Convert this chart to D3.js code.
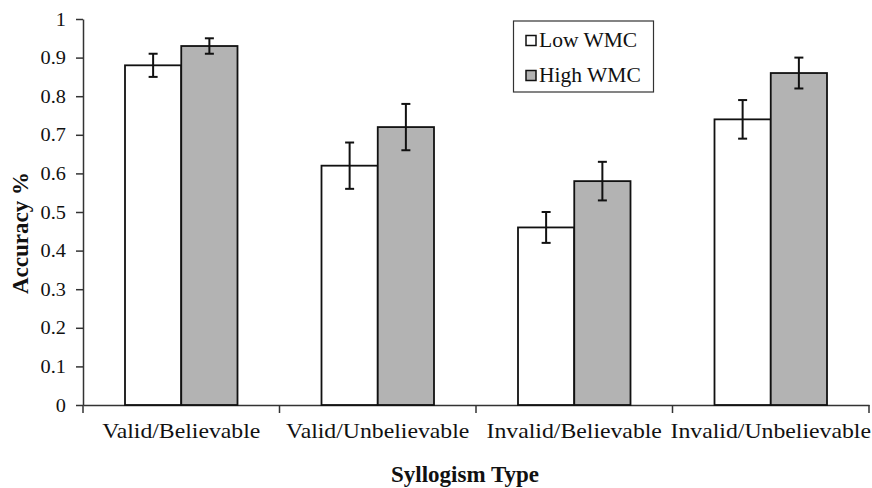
<!DOCTYPE html>
<html>
<head>
<meta charset="utf-8">
<script src="https://cdn.jsdelivr.net/npm/d3@7"></script>
<style>
  body { margin: 0; background: #fff; }
  svg { display: block; }
  text { font-family: "Liberation Serif", "Times New Roman", serif; fill: #111; }
</style>
</head>
<body>
<svg id="chart" width="872" height="488"></svg>
<script>
const categories = ["Valid/Believable", "Valid/Unbelievable", "Invalid/Believable", "Invalid/Unbelievable"];
const seriesNames = ["Low WMC", "High WMC"];
const lowValues = [0.88, 0.62, 0.46, 0.74];
const lowErrors = [0.03, 0.06, 0.04, 0.05];
const highValues = [0.93, 0.72, 0.58, 0.86];
const highErrors = [0.02, 0.06, 0.05, 0.04];
const yTicks = [0, 0.1, 0.2, 0.3, 0.4, 0.5, 0.6, 0.7, 0.8, 0.9, 1];
const yTickLabels = ["0", "0.1", "0.2", "0.3", "0.4", "0.5", "0.6", "0.7", "0.8", "0.9", "1"];
const colors = ["#ffffff", "#b3b3b3"];

const seriesValues = [lowValues, highValues];
const seriesErrors = [lowErrors, highErrors];

const svg = d3.select("#chart");
const plotLeft = 83, plotRight = 869, plotTop = 19, plotBottom = 405;

const y = d3.scaleLinear().domain([0, 1]).range([plotBottom, plotTop]);
const x0 = d3.scaleBand().domain(categories).range([plotLeft, plotRight]).padding(0);
const groupW = 112.5;
const x1 = d3.scaleBand().domain(seriesNames)
  .range([(x0.bandwidth() - groupW) / 2, (x0.bandwidth() + groupW) / 2]).padding(0);

// Y axis
const yAxis = svg.append("g").attr("transform", `translate(${plotLeft},0)`)
  .call(d3.axisLeft(y).tickValues(yTicks).tickFormat((d, i) => yTickLabels[i])
    .tickSize(7).tickSizeOuter(0).tickPadding(10));
yAxis.selectAll("text").style("font-size", "19px").style("font-family", "Liberation Serif")
  .attr("transform", "scale(1.07,1)").attr("x", -16);
yAxis.selectAll("line, path").attr("stroke", "#333").attr("stroke-width", 1.5);

// X axis
const xAxis = svg.append("g").attr("transform", `translate(0,${plotBottom})`)
  .call(d3.axisBottom(x0).tickSize(0).tickSizeOuter(0).tickPadding(17.5));
xAxis.select("path").attr("stroke", "#333").attr("stroke-width", 1.5);
xAxis.selectAll("text").style("font-size", "22px").style("font-family", "Liberation Serif")
  .attr("transform", "scale(1.08,1)");
const bounds = categories.map(c => x0(c)).concat([x0(categories[categories.length - 1]) + x0.bandwidth()]);
svg.append("g").selectAll("line").data(bounds).join("line")
  .attr("x1", d => d).attr("x2", d => d)
  .attr("y1", plotBottom).attr("y2", plotBottom + 8)
  .attr("stroke", "#333").attr("stroke-width", 1.5);

// Bars
const barData = [];
categories.forEach((c, ci) => {
  seriesNames.forEach((s, si) => {
    barData.push({ c, s, si, v: seriesValues[si][ci], e: seriesErrors[si][ci] });
  });
});
const g = svg.append("g");
g.selectAll("rect").data(barData).join("rect")
  .attr("x", d => x0(d.c) + x1(d.s))
  .attr("y", d => y(d.v))
  .attr("width", x1.bandwidth())
  .attr("height", d => y(0) - y(d.v))
  .attr("fill", d => colors[d.si])
  .attr("stroke", "#111").attr("stroke-width", 1.8);

// Error bars
const cap = 4.5;
const eg = svg.append("g").attr("stroke", "#111").attr("stroke-width", 2);
barData.forEach(d => {
  const cx = x0(d.c) + x1(d.s) + x1.bandwidth() / 2;
  eg.append("line").attr("x1", cx).attr("x2", cx).attr("y1", y(d.v + d.e)).attr("y2", y(d.v - d.e));
  eg.append("line").attr("x1", cx - cap).attr("x2", cx + cap).attr("y1", y(d.v + d.e)).attr("y2", y(d.v + d.e));
  eg.append("line").attr("x1", cx - cap).attr("x2", cx + cap).attr("y1", y(d.v - d.e)).attr("y2", y(d.v - d.e));
});

// Legend
const lg = svg.append("g");
lg.append("rect").attr("x", 513.5).attr("y", 21).attr("width", 140).attr("height", 71)
  .attr("fill", "#fff").attr("stroke", "#333").attr("stroke-width", 1.2);
seriesNames.forEach((s, i) => {
  const yy = 35.5 + i * 35;
  lg.append("rect").attr("x", 526).attr("y", yy).attr("width", 10).attr("height", 10)
    .attr("fill", colors[i]).attr("stroke", "#111").attr("stroke-width", 1.5);
  lg.append("text").attr("transform", `translate(539,${yy + 11}) scale(1.05,1)`)
    .style("font-size", "20.5px").text(s);
});

// Axis titles
svg.append("text").attr("transform", "translate(28,233) rotate(-90)")
  .attr("text-anchor", "middle").style("font-size", "23px").style("font-weight", "bold")
  .text("Accuracy %");
svg.append("text").attr("x", 465).attr("y", 482)
  .attr("text-anchor", "middle").style("font-size", "23px").style("font-weight", "bold")
  .text("Syllogism Type");
</script>
</body>
</html>
